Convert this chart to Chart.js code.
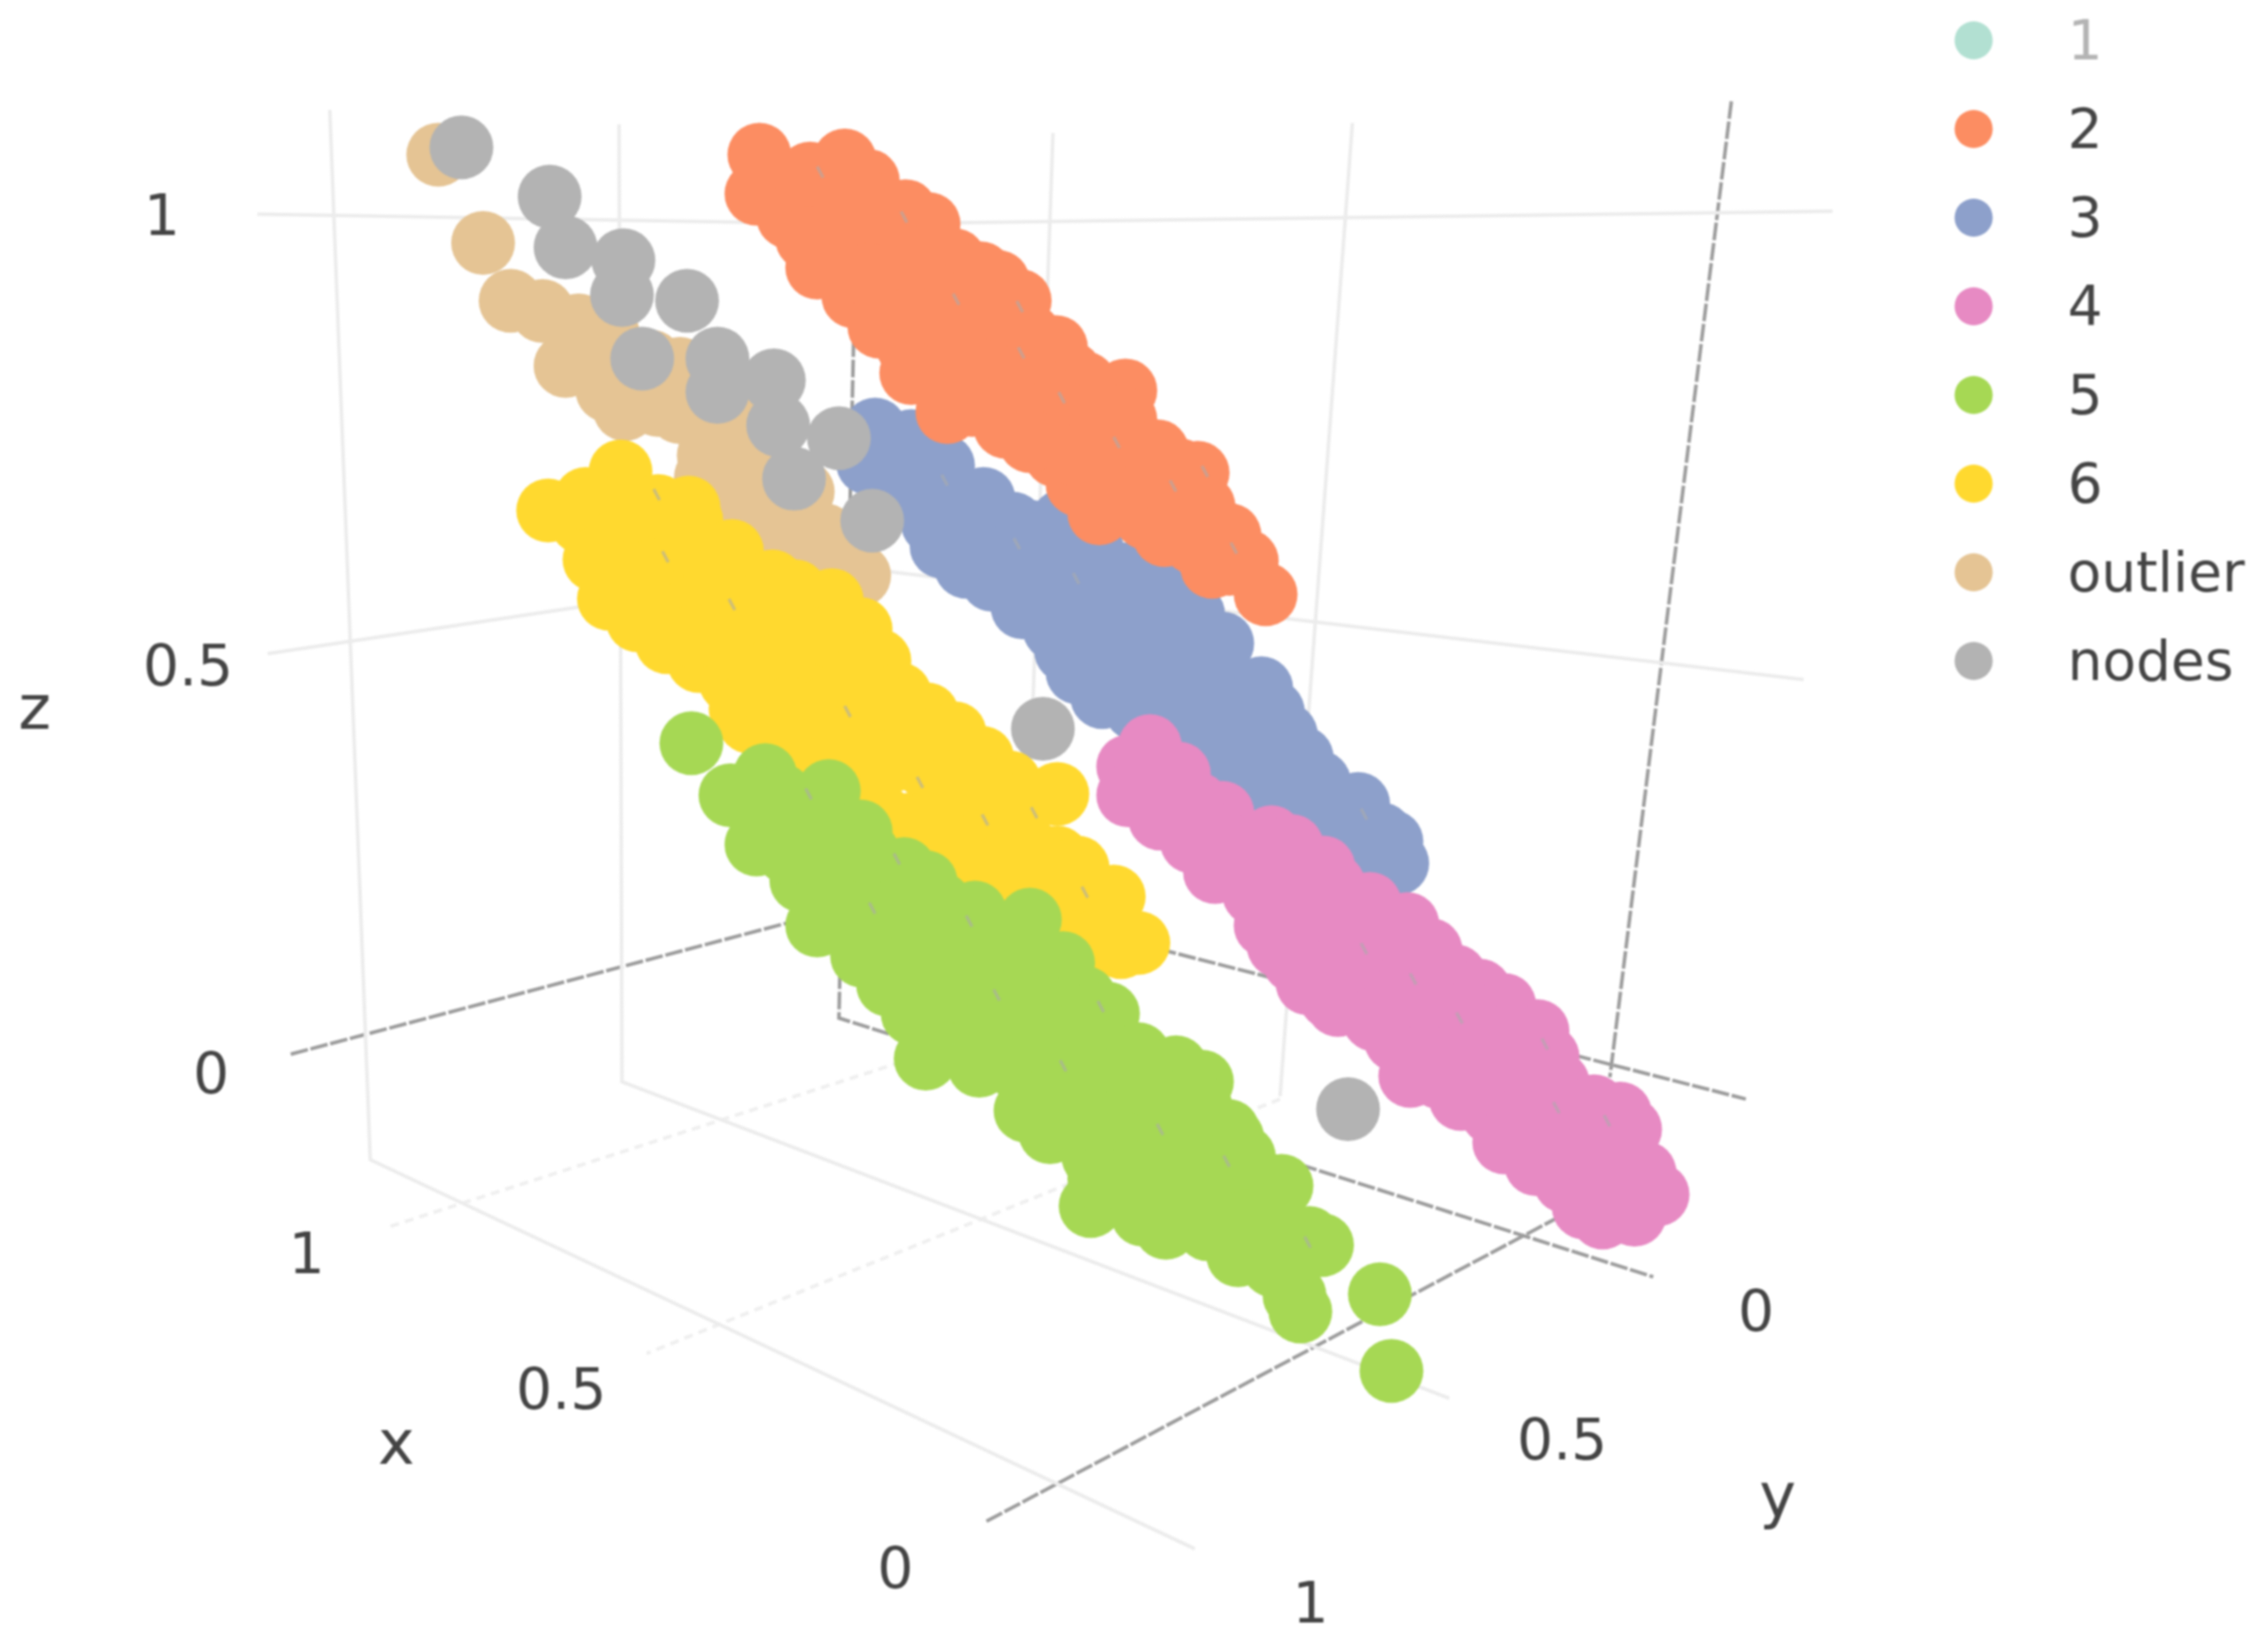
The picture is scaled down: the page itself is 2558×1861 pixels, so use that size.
<!DOCTYPE html>
<html>
<head>
<meta charset="utf-8">
<title>clusters</title>
<script src="https://cdn.jsdelivr.net/npm/chart.js@4/dist/chart.umd.min.js"></script>
<style>
  html, body { margin: 0; padding: 0; background: #fff; }
  canvas { display: block; filter: blur(1.1px); }
</style>
</head>
<body>
<canvas id="chart" width="2558" height="1861"></canvas>
<script>
// the original is a rotated 3d plot, so points are read as projected [across, down] values
const viewWidth = 1568;
const viewHeight = 1141;

const legendNames = ['1', '2', '3', '4', '5', '6', 'outlier', 'nodes'];
const legendColors = ['#66c2a580', '#fc8d62', '#8da0cb', '#e78ac3', '#a6d854', '#ffd92f', '#e5c494', '#b3b3b3'];

const cluster1 = [];
const cluster2 = [[525,107],[584,111],[523,134],[552,125],[575,135],[600,125],[600,140],[626,146],[642,155],[660,180],[678,189],[690,195],[705,208],[712,232],[730,240],[740,258],[778,270],[778,290],[545,150],[570,155],[558,165],[565,185],[590,170],[615,175],[645,175],[590,205],[603,212],[620,205],[650,205],[628,240],[652,258],[640,235],[670,235],[700,240],[725,250],[660,272],[690,265],[720,270],[750,265],[695,295],[720,300],[750,300],[780,300],[800,312],[730,315],[745,335],[770,330],[800,335],[828,327],[832,350],[760,355],[792,358],[820,360],[825,375],[838,392],[850,370],[862,388],[875,411],
  [560,120],[600,150],[585,150],[610,190],[635,195],[665,210],[680,215],[600,190],[630,220],[655,230],[685,220],[610,220],[608,226],[630,258],[655,285],[675,255],[705,260],[725,275],[672,280],[705,285],[735,285],[760,285],[712,305],[745,315],[775,315],[760,335],[800,350],[810,345],[815,325],[780,345],[805,370],[840,365],[850,390]];
const cluster3 = [[605,297],[600,320],[630,305],[652,322],[625,345],[645,362],[651,378],[650,350],[680,345],[700,362],[668,392],[680,385],[686,401],[710,385],[715,368],[735,360],[755,380],[775,397],[707,420],[725,410],[755,410],[785,420],[800,410],[825,425],[810,435],[845,445],[729,435],[737,450],[765,430],[795,450],[825,470],[745,465],[775,470],[762,482],[785,490],[805,490],[835,490],[872,476],[880,492],[889,508],[860,510],[900,524],[912,541],[880,535],[939,556],[910,565],[955,577],[962,582],[940,590],[966,597],[800,470],[820,500],[850,500],[875,515],[830,525],[860,540],[890,565],[920,590],
  [615,325],[640,330],[665,345],[670,365],[695,385],[720,395],[745,395],[770,415],[740,420],[780,440],[755,445],[810,460],[785,445],[760,460],[790,475],[815,475],[845,470],[850,480],[860,490],[840,515],[870,515],[895,545],[925,570],[905,555],[945,575],[950,595]];
const cluster4 = [[795,516],[780,530],[785,548],[780,550],[815,535],[802,566],[824,582],[828,556],[845,562],[840,603],[867,618],[860,585],[879,579],[893,585],[850,585],[885,615],[880,620],[915,600],[922,612],[947,625],[973,639],[884,654],[904,680],[905,640],[930,660],[900,645],[989,657],[960,665],[1006,675],[925,695],[945,680],[955,690],[975,695],[1023,685],[1040,695],[1005,705],[965,719],[985,710],[1010,725],[1063,713],[1070,731],[1077,749],[1040,745],[1035,730],[975,744],[995,745],[1032,770],[1065,770],[1102,765],[1127,781],[1090,795],[1062,805],[1082,817],[1110,815],[1137,811],[1108,842],[1130,840],[1146,826],
  [810,540],[835,575],[860,600],[845,590],[875,640],[895,625],[920,630],[945,645],[925,670],[895,665],[920,690],[965,690],[950,705],[990,690],[985,730],[1015,700],[1045,715],[1020,745],[1010,760],[1050,735],[1050,775],[1040,790],[1075,780],[1055,790],[1100,790],[1075,800],[1100,815],[1120,800],[1095,835],[1120,825],[1120,770]];
const cluster5 = [[478,514],[529,536],[505,550],[573,547],[523,584],[550,570],[579,570],[595,575],[554,609],[585,600],[610,610],[625,601],[565,640],[590,630],[620,630],[640,640],[650,625],[674,631],[680,640],[712,636],[596,661],[614,681],[635,660],[670,680],[665,665],[695,665],[735,666],[725,665],[631,701],[660,695],[700,710],[690,695],[720,695],[750,690],[766,701],[640,732],[677,737],[709,768],[730,740],[760,760],[695,725],[725,725],[755,725],[787,729],[813,738],[831,748],[726,783],[756,800],[740,755],[770,755],[800,760],[790,790],[820,810],[835,785],[849,782],[852,787],[754,834],[775,815],[805,820],[850,830],[875,819],[886,820],[790,840],[806,849],[835,850],[870,860],[905,856],[914,861],[856,868],[880,875],[895,896],[899,907],[954,895],[962,948],
  [600,600],[605,630],[640,610],[570,600],[545,590],[600,590],[630,680],[650,660],[655,700],[680,700],[680,715],[705,690],[735,700],[705,740],[745,715],[770,730],[725,760],[775,745],[755,775],[785,765],[800,780],[775,790],[810,775],[780,810],[760,815],[810,800],[830,830],[800,830],[860,800],[860,845],[885,870],[895,865],[880,840],[830,765],[540,550],[560,590]];
const cluster6 = [[379,353],[429,326],[402,361],[405,345],[440,350],[476,351],[478,360],[411,387],[450,370],[470,400],[506,381],[500,420],[534,402],[550,409],[575,415],[595,435],[421,414],[441,429],[461,444],[483,457],[505,471],[530,440],[518,499],[560,470],[590,490],[608,457],[622,480],[641,494],[660,507],[610,510],[640,530],[679,524],[698,541],[731,549],[670,555],[700,580],[731,593],[743,611],[720,610],[756,628],[787,652],[755,650],[535,495],[565,520],[600,545],[630,570],[660,595],[690,625],[720,640],
  [430,350],[455,350],[425,375],[450,395],[475,375],[425,395],[445,415],[470,425],[495,400],[520,420],[480,440],[505,445],[530,465],[555,440],[575,440],[512,490],[525,475],[545,490],[570,490],[590,470],[540,520],[565,545],[590,515],[615,490],[620,525],[585,560],[610,565],[650,510],[655,545],[640,570],[680,545],[710,555],[685,580],[715,590],[660,620],[690,600],[745,630],[705,640],[735,650],[770,640],[775,655],[770,620],[745,600],[760,650]];
const outlier = [[303,107],[334,168],[353,208],[375,215],[400,225],[391,253],[410,250],[420,230],[440,265],[420,270],[432,283],[455,280],[480,270],[470,285],[490,300],[510,290],[488,330],[530,320],[515,375],[520,345],[550,345],[540,375],[570,370],[555,340],[560,365],[594,398],[575,385],[540,395],[550,400],
  [505,335],[500,350],[490,315],[530,355],[525,330],[545,330],[550,375],[400,250],[420,255],[450,250],[470,255],[490,270],[510,270],[530,290],[525,305]];
const nodes = [[319,102],[380,136],[391,171],[431,180],[430,204],[475,208],[444,248],[496,248],[496,271],[535,263],[538,294],[580,303],[549,331],[603,360],[721,504],[932,767]];

// small grey slivers that show through the clusters
const gapMarks = [[833,326],[811,336],[853,379],[567,119],[625,150],[661,207],[734,275],[772,306],[706,244],[705,212],[653,332],[744,400],[703,376],[454,342],[460,385],[506,418],[586,492],[636,541],[715,562],[750,617],[681,567],[559,549],[603,628],[620,594],[670,637],[802,781],[848,803],[904,859],[761,696],[689,688],[735,737],[1076,766],[1111,775],[1068,722],[1009,704],[943,656],[977,677],[943,563]];

// box edges and grid lines
const axisLines = [
  [[201,729],[636,614],[1207,760]],
  [[592,150],[580,704],[1143,883]],
  [[1197,70],[1113,745]],
  [[682,1052],[1075,843]]
];
const gridLines = [
  [[178,148],[590,155],[1267,146]],
  [[185,452],[586,392],[1247,470]],
  [[228,76],[256,802],[826,1071]],
  [[428,86],[430,748],[1002,967]],
  [[728,92],[705,745]],
  [[935,85],[885,758]]
];
const floorLines = [
  [[885,760],[447,936]],
  [[270,848],[640,729]]
];

const tickLabels = ['1', '0.5', '0', '1', '0.5', '0', '0', '0.5', '1'];
const tickAcross = [112, 130, 146, 212, 388, 619, 1214, 1080, 906];
const tickDown = [152, 464, 746, 870, 964, 1088, 910, 999, 1112];

const axisTitles = ['z', 'x', 'y'];
const titleAcross = [24, 274, 1229];
const titleDown = [493, 1001, 1038];

const toPoints = pairs => pairs.map(p => ({ x: p[0], y: p[1] }));

// legend marker, drawn a little above the middle so it lines up with the label
function dot(color) {
  const c = document.createElement('canvas');
  c.width = 44;
  c.height = 60;
  const g = c.getContext('2d');
  g.fillStyle = color;
  g.beginPath();
  g.arc(22, 24.5, 21.5, 0, Math.PI * 2);
  g.fill();
  return c;
}

const clusters = [cluster1, cluster2, cluster3, cluster4, cluster5, cluster6, outlier, nodes];
// lower order is painted on top
const paintOrder = [10, 6, 7, 2, 1, 3, 8, 5];

const datasets = clusters.map((points, i) => ({
  label: legendNames[i],
  data: toPoints(points),
  order: paintOrder[i],
  backgroundColor: legendColors[i],
  borderWidth: 0,
  pointRadius: 36,
  pointHoverRadius: 36
}));

datasets.push({
  label: '',
  data: toPoints(gapMarks),
  order: 0,
  pointStyle: 'line',
  pointRotation: 62,
  pointRadius: 7,
  borderColor: 'rgba(172,172,172,0.6)',
  borderWidth: 3.5
});

function addLines(lines, color, width, dash) {
  lines.forEach(line => datasets.push({
    label: '',
    data: toPoints(line),
    order: 20,
    showLine: true,
    borderColor: color,
    borderWidth: width,
    borderDash: dash,
    pointRadius: 0
  }));
}
addLines(gridLines, '#ececec', 4, []);
addLines(floorLines, '#efefef', 4, [10, 7]);
addLines(axisLines, '#9c9c9c', 4, [20, 3]);

const axisText = {
  id: 'axisText',
  afterDatasetsDraw(chart) {
    const { ctx, scales } = chart;
    ctx.save();
    ctx.fillStyle = '#444';
    ctx.textAlign = 'center';
    ctx.textBaseline = 'middle';
    ctx.font = '64px "DejaVu Sans"';
    tickLabels.forEach((t, i) => {
      ctx.fillText(t, scales.x.getPixelForValue(tickAcross[i]), scales.y.getPixelForValue(tickDown[i]));
    });
    ctx.font = '70px "DejaVu Sans"';
    axisTitles.forEach((t, i) => {
      ctx.fillText(t, scales.x.getPixelForValue(titleAcross[i]), scales.y.getPixelForValue(titleDown[i]));
    });
    ctx.restore();
  }
};

// the legend sits top right, over the empty part of the page
const placeLegend = {
  id: 'placeLegend',
  afterLayout(chart) {
    chart.legend.left = 2113;
    chart.legend.top = -18;
  }
};

new Chart(document.getElementById('chart'), {
  type: 'scatter',
  data: { datasets },
  plugins: [axisText, placeLegend],
  options: {
    responsive: false,
    animation: false,
    events: [],
    layout: { padding: 0, autoPadding: false },
    scales: {
      x: { display: false, min: 0, max: viewWidth },
      y: { display: false, min: 0, max: viewHeight, reverse: true }
    },
    plugins: {
      tooltip: { enabled: false },
      legend: {
        position: 'chartArea',
        align: 'start',
        labels: {
          usePointStyle: true,
          pointStyleWidth: 150,
          padding: 38,
          font: { family: '"DejaVu Sans"', size: 62 },
          generateLabels: () => legendNames.map((name, i) => ({
            text: name,
            pointStyle: dot(legendColors[i]),
            fontColor: i === 0 ? '#b4b4b4' : '#444',
            hidden: false,
            datasetIndex: i
          }))
        }
      }
    }
  }
});
</script>
</body>
</html>
